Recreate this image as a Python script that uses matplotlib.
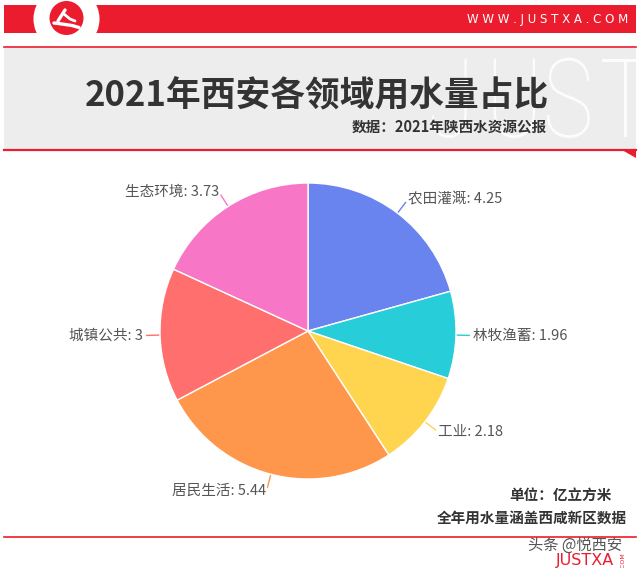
import numpy as np
import matplotlib
matplotlib.use("Agg")
import matplotlib.pyplot as plt
from matplotlib.patches import Rectangle, Circle, Polygon, PathPatch
from matplotlib.textpath import TextPath
from matplotlib.font_manager import FontProperties
from matplotlib.transforms import Affine2D

plt.rcParams['font.family'] = ['Noto Sans CJK SC', 'DejaVu Sans']

# --- data ---
categories = ['农田灌溉', '林牧渔蓄', '工业', '居民生活', '城镇公共', '生态环境']
values = [4.25, 1.96, 2.18, 5.44, 3, 3.73]
colors = ['#6A84EF', '#27CDD8', '#FFD44F', '#FE964B', '#FF6F6D', '#F776C6']

title = '2021年西安各领域用水量占比'
subtitle = '数据：2021年陕西水资源公报'
note_unit = '单位：亿立方米'
note_scope = '全年用水量涵盖西咸新区数据'

RED = '#EC1C2F'
W, H = 640, 568

fig = plt.figure(figsize=(W / 100, H / 100), dpi=100)
fig.patch.set_facecolor('white')

# --- background / decoration axes in pixel coords ---
bg = fig.add_axes([0, 0, 1, 1])
bg.set_xlim(0, W)
bg.set_ylim(H, 0)
bg.axis('off')

# header bar with logo
bg.add_patch(Rectangle((4, 5), 632, 28, color=RED, lw=0))
bg.add_patch(Circle((66.5, 19), 33, color='white', lw=0))
bg.add_patch(Circle((66.5, 18), 17, color=RED, lw=0))
bg.plot([65, 58], [10, 21], color='white', lw=2.4, solid_capstyle='round')
bg.plot([64, 70, 75], [14, 19, 21], color='white', lw=2.0, solid_capstyle='round')
bg.plot([54, 62, 72, 79], [23, 24, 25.5, 27.5], color='white', lw=2.4, solid_capstyle='round')
bg.text(628, 19, 'W W W . J U S T X A . C O M', color='white', fontsize=8.5,
        ha='right', va='center', family=['DejaVu Sans'])

# gray title band
bg.plot([4, 636], [46.5, 46.5], color=RED, lw=1.2)
band = Rectangle((4, 48), 632, 101, color='#EDEDED', lw=0)
bg.add_patch(band)
bg.plot([4, 636], [149.5, 149.5], color=RED, lw=1.6)
bg.add_patch(Polygon([(622, 150), (636, 150), (636, 158)], color=RED, lw=0))

# watermark letters in the band
wm_font = FontProperties(family='Roboto', weight='light')
for ch, x0 in zip('JUSTU', [428, 486, 543, 600, 655]):
    tp = TextPath((0, 0), ch, size=100, prop=wm_font)
    wm = PathPatch(tp, color='white', alpha=0.85, lw=0,
                   transform=Affine2D().scale(0.85, -1.1).translate(x0, 137) + bg.transData)
    bg.add_patch(wm)
    wm.set_clip_path(band)

bg.text(317, 96, title, fontsize=25, fontweight='bold', color='#333333',
        ha='center', va='center')
bg.text(547, 127, subtitle, fontsize=10.5, fontweight='bold', color='#333333',
        ha='right', va='center')

# bottom notes
bg.text(612, 495, note_unit, fontsize=10.5, fontweight='bold', color='#333333',
        ha='right', va='center')
bg.text(627, 518, note_scope, fontsize=10.5, fontweight='bold', color='#333333',
        ha='right', va='center')
bg.plot([4, 636], [537, 537], color=RED, lw=1.2)
bg.text(622, 545, '头条 @悦西安', fontsize=11, color='#555555', ha='right', va='center')
bg.text(614, 561, 'JUSTXA', fontsize=11.5, color=RED, ha='right', va='center',
        family=['DejaVu Sans'])
bg.text(623, 561, '.COM', fontsize=4.5, color=RED, ha='center', va='center',
        rotation=90, family=['DejaVu Sans'])

# --- pie ---
cx, cy, R, half = 308, 331, 148, 200
ax = fig.add_axes([(cx - half) / W, (H - cy - half) / H, 2 * half / W, 2 * half / H])
wedges, _ = ax.pie(values, colors=colors, startangle=90, counterclock=False,
                   wedgeprops=dict(edgecolor='white', linewidth=1))
lim = half / R
ax.set_xlim(-lim, lim)
ax.set_ylim(-lim, lim)
ax.set_aspect('equal')
ax.axis('off')

for w, name, v, c in zip(wedges, categories, values, colors):
    ang = np.deg2rad((w.theta1 + w.theta2) / 2)
    x, y = np.cos(ang), np.sin(ang)
    ax.plot([1.01 * x, 1.09 * x], [1.01 * y, 1.09 * y], color=c, lw=1)
    ax.text(1.115 * x, 1.115 * y, f'{name}: {v:g}', fontsize=10.5, color='#555555',
            ha='left' if x > 0 else 'right', va='center')

fig.savefig('out.png', dpi=100)
